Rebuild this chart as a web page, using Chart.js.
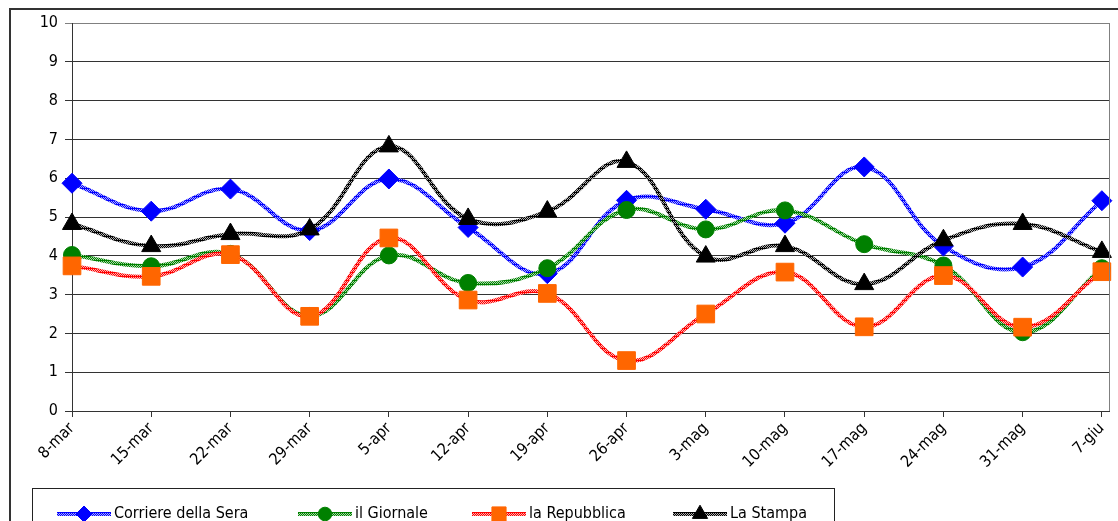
<!DOCTYPE html>
<html>
<head>
<meta charset="utf-8">
<script src="https://cdn.jsdelivr.net/npm/chart.js@4.4.1/dist/chart.umd.min.js"></script>
<style>
  html, body { margin: 0; padding: 0; background: #fff; }
  #wrap { width: 1118px; height: 521px; position: relative; }
</style>
</head>
<body>
<div id="wrap"><canvas id="myChart" width="1118" height="521"></canvas></div>
<script>
// Weekly values
const weeks = ['8-mar', '15-mar', '22-mar', '29-mar', '5-apr', '12-apr', '19-apr',
    '26-apr', '3-mag', '10-mag', '17-mag', '24-mag', '31-mag', '7-giu'];
const corriere = [5.87, 5.15, 5.72, 4.65, 5.98, 4.73, 3.54, 5.43, 5.2, 4.84, 6.29, 4.25, 3.71, 5.42];
const giornale = [4.02, 3.73, 4.05, 2.45, 4.01, 3.3, 3.68, 5.18, 4.68, 5.17, 4.3, 3.75, 2.03, 3.68];
const repubblica = [3.74, 3.47, 4.03, 2.44, 4.46, 2.86, 3.03, 1.3, 2.5, 3.58, 2.17, 3.49, 2.16, 3.59];
const stampa = [4.82, 4.25, 4.56, 4.68, 6.82, 4.95, 5.14, 6.42, 3.98, 4.25, 3.27, 4.4, 4.82, 4.1];
const yTicks = [0, 1, 2, 3, 4, 5, 6, 7, 8, 9, 10];

const FONT = "'DejaVu Sans Condensed', 'DejaVu Sans', sans-serif";

// textured stroke like the old office line style
function stripe(color, light) {
    const c = document.createElement('canvas');
    c.width = 4; c.height = 4;
    const g = c.getContext('2d');
    g.fillStyle = color;
    g.fillRect(0, 0, 4, 4);
    g.fillStyle = light;
    g.fillRect(1, 1, 1, 1);
    g.fillRect(3, 1, 1, 1);
    g.fillRect(0, 2, 1, 1);
    g.fillRect(2, 2, 1, 1);
    g.fillRect(1, 3, 1, 1);
    g.fillRect(3, 3, 1, 1);
    return g.createPattern(c, 'repeat');
}

function toPoints(arr) {
    return arr.map((v, i) => ({ x: i, y: v }));
}

const series = [
    { label: 'Corriere della Sera', data: corriere, line: '#0000ff', light: '#a8a8ff', mark: '#0000ff', style: 'rectRot', r: 10, order: 4 },
    { label: 'il Giornale', data: giornale, line: '#008000', light: '#a8d8a8', mark: '#008000', style: 'circle', r: 8.5, order: 3 },
    { label: 'la Repubblica', data: repubblica, line: '#ff0000', light: '#ffb0b0', mark: '#ff6600', style: 'rect', r: 12.5, order: 2 },
    { label: 'La Stampa', data: stampa, line: '#000000', light: '#b0b0b0', mark: '#000000', style: 'triangle', r: 11, order: 1 }
];

series.forEach(s => { s.pattern = stripe(s.line, s.light); });

// frame, plot border and legend box
const framePlugin = {
    id: 'frame',
    afterDraw(chart) {
        const c = chart.ctx;
        const a = chart.chartArea;
        c.save();
        // outer frame
        c.strokeStyle = '#333';
        c.lineWidth = 2;
        c.beginPath();
        c.moveTo(10, 521);
        c.lineTo(10, 9);
        c.lineTo(1118, 9);
        c.stroke();
        // plot area right border
        c.strokeStyle = '#808080';
        c.lineWidth = 1;
        c.beginPath();
        c.moveTo(a.right + 0.5, a.top);
        c.lineTo(a.right + 0.5, a.bottom);
        c.stroke();

        // legend
        c.strokeStyle = '#222';
        c.lineWidth = 1;
        c.strokeRect(32.5, 488.5, 802, 40);
        const xs = [57, 298, 472, 673];
        const ly = 514;
        c.font = '16px ' + FONT;
        c.textBaseline = 'middle';
        c.fillStyle = '#000';
        series.forEach((s, i) => {
            const x0 = xs[i];
            c.strokeStyle = s.pattern;
            c.lineWidth = 4;
            c.beginPath();
            c.moveTo(x0, ly);
            c.lineTo(x0 + 54, ly);
            c.stroke();
            c.fillStyle = s.mark;
            c.strokeStyle = s.mark;
            c.lineWidth = 1;
            Chart.helpers.drawPoint(c, { pointStyle: s.style, radius: s.r * 0.8, borderWidth: 1 }, x0 + 27, ly);
            c.fillStyle = '#000';
            c.fillText(s.label, x0 + 57, ly);
        });
        c.restore();
    }
};

const ctx = document.getElementById('myChart').getContext('2d');

const myChart = new Chart(ctx, {
    type: 'line',
    data: {
        datasets: series.map(s => ({
            label: s.label,
            data: toPoints(s.data),
            borderColor: s.pattern,
            borderWidth: 4,
            tension: 0.4,
            fill: false,
            clip: false,
            pointStyle: s.style,
            pointRadius: s.r,
            pointBackgroundColor: s.mark,
            pointBorderColor: s.mark,
            pointBorderWidth: 1,
            order: s.order
        }))
    },
    options: {
        responsive: false,
        animation: false,
        devicePixelRatio: 1,
        layout: { autoPadding: false, padding: { left: 0, top: 23, right: 9, bottom: 0 } },
        plugins: {
            legend: { display: false },
            tooltip: { enabled: false }
        },
        scales: {
            x: {
                type: 'linear',
                min: 0,
                max: 13.09,
                afterFit(scale) {
                    scale.height = 110;
                    scale.paddingRight = 0;
                },
                afterBuildTicks(scale) {
                    scale.ticks = weeks.map((w, i) => ({ value: i }));
                },
                ticks: {
                    includeBounds: false,
                    autoSkip: false,
                    maxRotation: 45,
                    minRotation: 45,
                    padding: 2,
                    color: '#000',
                    font: { family: FONT, size: 16 },
                    callback: v => weeks[v]
                },
                grid: {
                    drawOnChartArea: false,
                    drawTicks: true,
                    tickLength: 6,
                    color: '#333'
                },
                border: { color: '#333', width: 1 }
            },
            y: {
                min: 0,
                max: 10,
                afterFit(scale) { scale.width = 72; },
                afterBuildTicks(scale) {
                    scale.ticks = yTicks.map(v => ({ value: v }));
                },
                ticks: {
                    padding: 7,
                    color: '#000',
                    font: { family: FONT, size: 16 }
                },
                grid: {
                    color: ctx2 => ctx2.tick && ctx2.tick.value === 10 ? '#808080' : '#333',
                    lineWidth: 1,
                    tickLength: 7
                },
                border: { color: '#333', width: 1 }
            }
        }
    },
    plugins: [framePlugin]
});
</script>
</body>
</html>
